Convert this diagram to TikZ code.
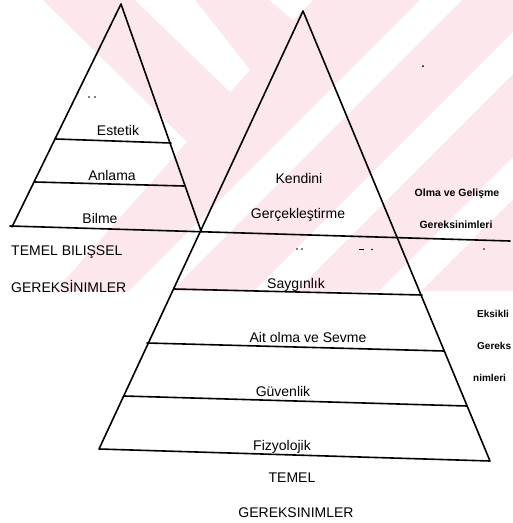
\documentclass[tikz,border=0pt]{standalone}
\usepackage{fontspec}
\setmainfont{Liberation Sans}
\definecolor{wmpink}{RGB}{252,231,236}
\tikzset{
  edge/.style={line width=1.6pt, line join=round, line cap=round},
  lbl/.style={inner sep=0pt, anchor=base, font=\fontsize{14}{16}\selectfont},
  lbll/.style={inner sep=0pt, anchor=base west, font=\fontsize{14}{16}\selectfont},
  side/.style={inner sep=0pt, anchor=base, font=\fontsize{10.5}{12}\selectfont\bfseries},
  sidel/.style={inner sep=0pt, anchor=base west, font=\fontsize{10}{12}\selectfont\bfseries},
  speck/.style={fill=black},
}
\begin{document}
\begin{tikzpicture}[x=1pt,y=-1pt]
\useasboundingbox (0,0) rectangle (513,523);
\clip (0,0) rectangle (513,523);
% watermark
\fill[wmpink] (43,0) -- (513,0) -- (513,291) -- (55,291) -- (187,142) -- cycle;
\fill[white] (135,0) -- (195,0) -- (250,70) -- (230,92) -- cycle;
\fill[white] (269,0) -- (313,0) -- (293,20) -- cycle;
\fill[white] (420,0) -- (462,0) -- (171,291) -- (129,291) -- cycle;
\fill[white] (545,0) -- (587,0) -- (296,291) -- (254,291) -- cycle;
\fill[white] (670,0) -- (712,0) -- (421,291) -- (379,291) -- cycle;
% coordinates
\coordinate (LA) at (121,4);
\coordinate (LB) at (12,227);
\coordinate (X) at (201,231);
\coordinate (HL) at (10,226);
\coordinate (HR) at (510,241);
\coordinate (RA) at (303,11);
\coordinate (RBL) at (99,449);
\coordinate (RBR) at (490,461);
% left triangle
\draw[edge] (LB) -- (LA) -- (X);
\draw[edge] (56,139) -- (171,143);
\draw[edge] (35,182) -- (184,186);
% long line
\draw[edge] (HL) -- (HR);
% big triangle
\draw[edge] (RBL) -- (RA) -- (RBR) -- cycle;
\draw[edge] (174,289) -- (422,295);
\draw[edge] (147,343) -- (444,351);
\draw[edge] (124,396) -- (467,406);
% specks
\fill[speck] (89,97) circle (0.9);
\fill[speck] (95,97) circle (0.9);
\fill[speck] (423,66) circle (1);
\fill[speck] (297,249) circle (0.8);
\fill[speck] (302,249) circle (0.8);
\fill[speck] (359,249) rectangle (364,250.2);
\fill[speck] (372,249.5) circle (0.8);
\fill[speck] (484,249) circle (0.8);
% left texts
\node[lbl] (estetik) at (118,135) {Estetik};
\node[lbl] (anlama) at (112,180) {Anlama};
\node[lbl] (bilme) at (100,223) {Bilme};
\node[lbll] (tb) at (11,255) {TEMEL BILIŞSEL};
\node[lbll] (gl) at (11,292) {GEREKSİNIMLER};
% big triangle texts
\node[lbl] (kendini) at (299,183) {Kendini};
\node[lbl] (gercek) at (298,218) {Gerçekleştirme};
\node[lbl] (saygi) at (296,288) {Saygınlık};
\node[lbl] (ait) at (308,342) {Ait olma ve Sevme};
\node[lbl] (guven) at (283,396) {Güvenlik};
\node[lbl] (fizyo) at (282,450) {Fizyolojik};
\node[lbl] (temel) at (292,482) {TEMEL};
\node[lbl] (gb) at (296,517) {GEREKSINIMLER};
% right side texts
\node[side] (olma) at (457,196) {Olma ve Gelişme};
\node[side] (gerek) at (456,228) {Gereksinimleri};
\node[sidel] (eks) at (477,317) {Eksikli};
\node[sidel] (gerek2) at (477,349) {Gereks};
\node[sidel] (nim) at (473,381) {nimleri};
\end{tikzpicture}
\end{document}
